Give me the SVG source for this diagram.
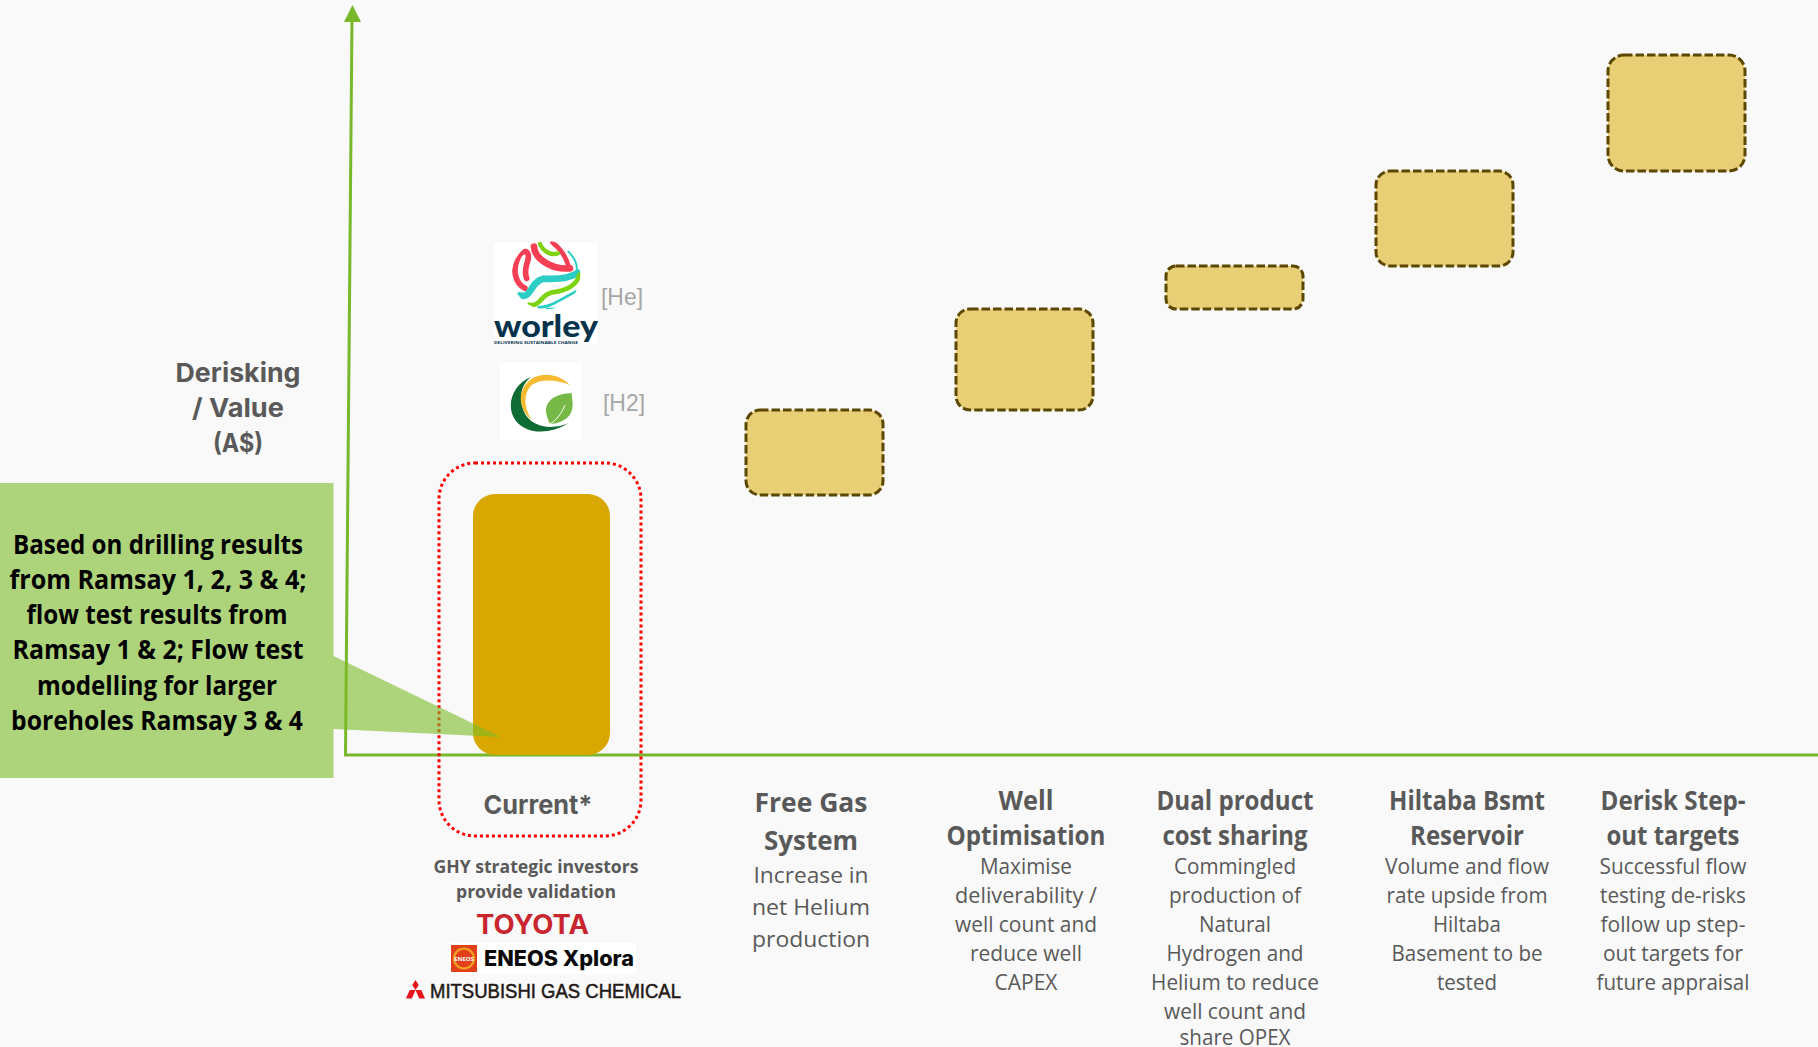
<svg xmlns="http://www.w3.org/2000/svg" width="1818" height="1047" viewBox="0 0 1818 1047">
<defs>
<style>
text{font-family:"Open Sans","Noto Sans",sans-serif;text-anchor:middle;fill:#595959}
.h{font-size:26px;font-weight:700}
.b{font-size:22.5px;font-weight:400}
.i{font-family:"Inter","Noto Sans",sans-serif;font-size:26px;font-weight:700}
.c{font-size:27.5px;font-weight:700;fill:#000}
.s{font-size:18.5px;font-weight:700}
.g{font-family:"Liberation Sans",sans-serif;font-size:24px;fill:#a6a6a6}
.box{fill:#e8cf75;stroke:#5c4700;stroke-width:3;stroke-dasharray:8.500 3}
.ax{fill:none;stroke:#78b82a;stroke-width:3}
.st{fill:none;stroke-linecap:round}
</style>
<clipPath id="globe"><circle cx="498" cy="165" r="103"/></clipPath>
</defs>
<rect width="1818" height="1047" fill="#f9f9f9"/>
<g id="connectors">
<path class="ax" d="M345.500 755 L352 18"/>
<path class="ax" d="M344 755 H1818"/>
<polygon points="352.500,5 344,22 361,22" fill="#78b82a"/>
</g>
<g id="current">
<rect x="473" y="494" width="137" height="261" rx="22" fill="#d8a800"/>
<rect x="439" y="463" width="202" height="373" rx="36" fill="none" stroke="#f00" stroke-width="3" stroke-dasharray="3 3"/>
<text x="538" y="814" class="i" textLength="109" lengthAdjust="spacingAndGlyphs">Current*</text>
</g>
<g id="callout">
<path d="M0 483 H333.500 V656 L501 737 L333.500 729 V778 H0Z" fill="#7bbb26" fill-opacity="0.6"/>
<text class="c" x="158" y="554" textLength="290" lengthAdjust="spacingAndGlyphs">Based on drilling results</text>
<text class="c" x="158" y="589" textLength="297" lengthAdjust="spacingAndGlyphs">from Ramsay 1, 2, 3 &amp; 4;</text>
<text class="c" x="157" y="624" textLength="261" lengthAdjust="spacingAndGlyphs">flow test results from</text>
<text class="c" x="158" y="659" textLength="291" lengthAdjust="spacingAndGlyphs">Ramsay 1 &amp; 2; Flow test</text>
<text class="c" x="157" y="695" textLength="240" lengthAdjust="spacingAndGlyphs">modelling for larger</text>
<text class="c" x="157" y="730" textLength="292" lengthAdjust="spacingAndGlyphs">boreholes Ramsay 3 &amp; 4</text>
</g>
<g id="axis-label">
<text class="i" x="238" y="382" textLength="125" lengthAdjust="spacingAndGlyphs">Derisking</text>
<text class="i" x="238" y="417" textLength="92" lengthAdjust="spacingAndGlyphs">/ Value</text>
<text class="i" x="238" y="452" textLength="50" lengthAdjust="spacingAndGlyphs">(A$)</text>
</g>
<g id="free-gas">
<rect class="box" x="746" y="410" width="137" height="85" rx="14"/>
<text class="h" x="811" y="812" textLength="113" lengthAdjust="spacingAndGlyphs">Free Gas</text>
<text class="h" x="811" y="850" textLength="94" lengthAdjust="spacingAndGlyphs">System</text>
<text class="b" x="811" y="883" textLength="115" lengthAdjust="spacingAndGlyphs">Increase in</text>
<text class="b" x="811" y="915" textLength="118" lengthAdjust="spacingAndGlyphs">net Helium</text>
<text class="b" x="811" y="947" textLength="118" lengthAdjust="spacingAndGlyphs">production</text>
</g>
<g id="well-opt">
<rect class="box" x="956" y="309" width="137" height="101" rx="14"/>
<text class="h" x="1026" y="810" textLength="55" lengthAdjust="spacingAndGlyphs">Well</text>
<text class="h" x="1026" y="845" textLength="159" lengthAdjust="spacingAndGlyphs">Optimisation</text>
<text class="b" x="1026" y="874" textLength="92" lengthAdjust="spacingAndGlyphs">Maximise</text>
<text class="b" x="1026" y="903" textLength="142" lengthAdjust="spacingAndGlyphs">deliverability /</text>
<text class="b" x="1026" y="932" textLength="142" lengthAdjust="spacingAndGlyphs">well count and</text>
<text class="b" x="1026" y="961" textLength="112" lengthAdjust="spacingAndGlyphs">reduce well</text>
<text class="b" x="1026" y="990" textLength="63" lengthAdjust="spacingAndGlyphs">CAPEX</text>
</g>
<g id="dual">
<rect class="box" x="1166" y="266" width="137" height="43" rx="10"/>
<text class="h" x="1235" y="810" textLength="157" lengthAdjust="spacingAndGlyphs">Dual product</text>
<text class="h" x="1235" y="845" textLength="145" lengthAdjust="spacingAndGlyphs">cost sharing</text>
<text class="b" x="1235" y="874" textLength="122" lengthAdjust="spacingAndGlyphs">Commingled</text>
<text class="b" x="1235" y="903" textLength="132" lengthAdjust="spacingAndGlyphs">production of</text>
<text class="b" x="1235" y="932" textLength="72" lengthAdjust="spacingAndGlyphs">Natural</text>
<text class="b" x="1235" y="961" textLength="137" lengthAdjust="spacingAndGlyphs">Hydrogen and</text>
<text class="b" x="1235" y="990" textLength="168" lengthAdjust="spacingAndGlyphs">Helium to reduce</text>
<text class="b" x="1235" y="1019" textLength="142" lengthAdjust="spacingAndGlyphs">well count and</text>
<text class="b" x="1235" y="1045" style="font-size:21px" textLength="111" lengthAdjust="spacingAndGlyphs">share OPEX</text>
</g>
<g id="hiltaba">
<rect class="box" x="1376" y="171" width="137" height="95" rx="14"/>
<text class="h" x="1467" y="810" textLength="156" lengthAdjust="spacingAndGlyphs">Hiltaba Bsmt</text>
<text class="h" x="1467" y="845" textLength="114" lengthAdjust="spacingAndGlyphs">Reservoir</text>
<text class="b" x="1467" y="874" textLength="164" lengthAdjust="spacingAndGlyphs">Volume and flow</text>
<text class="b" x="1467" y="903" textLength="161" lengthAdjust="spacingAndGlyphs">rate upside from</text>
<text class="b" x="1467" y="932" textLength="68" lengthAdjust="spacingAndGlyphs">Hiltaba</text>
<text class="b" x="1467" y="961" textLength="151" lengthAdjust="spacingAndGlyphs">Basement to be</text>
<text class="b" x="1467" y="990" textLength="60" lengthAdjust="spacingAndGlyphs">tested</text>
</g>
<g id="derisk">
<rect class="box" x="1608" y="55" width="137" height="116" rx="16"/>
<text class="h" x="1673" y="810" textLength="145" lengthAdjust="spacingAndGlyphs">Derisk Step-</text>
<text class="h" x="1673" y="845" textLength="133" lengthAdjust="spacingAndGlyphs">out targets</text>
<text class="b" x="1673" y="874" textLength="147" lengthAdjust="spacingAndGlyphs">Successful flow</text>
<text class="b" x="1673" y="903" textLength="146" lengthAdjust="spacingAndGlyphs">testing de-risks</text>
<text class="b" x="1673" y="932" textLength="145" lengthAdjust="spacingAndGlyphs">follow up step-</text>
<text class="b" x="1673" y="961" textLength="140" lengthAdjust="spacingAndGlyphs">out targets for</text>
<text class="b" x="1673" y="990" textLength="153" lengthAdjust="spacingAndGlyphs">future appraisal</text>
</g>
<g id="investors">
<text class="s" x="536" y="873" textLength="205" lengthAdjust="spacingAndGlyphs">GHY strategic investors</text>
<text class="s" x="536" y="898" textLength="160" lengthAdjust="spacingAndGlyphs">provide validation</text>
<text x="532.500" y="934" style="font-family:Inter,sans-serif;font-size:26.500px;font-weight:700;fill:#c9252f" textLength="113" lengthAdjust="spacingAndGlyphs">TOYOTA</text>
<rect x="449" y="943" width="187" height="31" fill="#fff"/>
<rect x="451" y="945" width="26" height="27" fill="#e2401a"/>
<circle cx="464" cy="958.500" r="10" fill="none" stroke="#f6a623" stroke-width="2"/>
<text x="464" y="961" style="font-size:6px;font-weight:700;fill:#fff">ENEOS</text>
<text x="559" y="966" style="font-family:Inter,sans-serif;font-size:21px;font-weight:800;fill:#0a0a0a" textLength="150" lengthAdjust="spacingAndGlyphs">ENEOS Xplora</text>
<path d="M415.500 980 l3.200 5 l-3.200 5 l-3.200 -5Z M415.500 990 h5.800 l3.700 8.500 h-5.800Z M415.500 990 h-5.800 l-3.700 8.500 h5.800Z" fill="#e8141c"/>
<text x="555.500" y="998" style="font-size:20px;font-weight:400;fill:#231815;font-family:'Liberation Sans',sans-serif;stroke:#231815;stroke-width:.5" textLength="251" lengthAdjust="spacingAndGlyphs">MITSUBISHI GAS CHEMICAL</text>
</g>
<g id="worley">
<rect x="494" y="243" width="104" height="101" fill="#fff"/>
<g transform="translate(380 220) scale(0.3333)" clip-path="url(#globe)">
<path class="st" stroke="#f43f54" stroke-width="17" d="M435 205 C405 190 398 150 412 118 C420 95 440 85 445 105 C448 130 428 140 440 175"/>
<path class="st" stroke="#f43f54" stroke-width="20" d="M462 80 C465 120 520 150 570 145"/>
<path class="st" stroke="#f43f54" stroke-width="14" d="M518 68 C540 85 558 110 566 140"/>
<path class="st" stroke="#7dd30f" stroke-width="13" d="M480 72 C490 95 515 108 534 100"/>
<path class="st" stroke="#2ccdc4" stroke-width="6" d="M565 95 C585 115 592 135 590 150"/>
<path class="st" stroke="#2ccdc4" stroke-width="20" d="M420 226 C455 238 450 185 490 176 C530 178 570 175 594 158"/>
<path class="st" stroke="#7dd30f" stroke-width="14" d="M448 254 C485 262 480 218 530 215 C565 208 590 195 598 165"/>
<path class="st" stroke="#2ccdc4" stroke-width="8" d="M476 262 C510 262 540 240 588 214"/>
<path class="st" stroke="#2ccdc4" stroke-width="6" d="M500 266 H534"/>
</g>
<text x="546" y="337" style="font-family:Lato,sans-serif;font-size:31px;font-weight:900;fill:#06334c" textLength="104" lengthAdjust="spacingAndGlyphs">worley</text>
<text x="536" y="344" style="font-size:3.500px;font-weight:700;fill:#06334c" textLength="84" lengthAdjust="spacingAndGlyphs">DELIVERING SUSTAINABLE CHANGE</text>
<text class="g" x="622" y="305" textLength="42" lengthAdjust="spacingAndGlyphs">[He]</text>
</g>
<g id="h2-logo">
<rect x="500" y="363" width="82" height="77" fill="#fff"/>
<g transform="translate(380 220) scale(0.3333)">
<path d="M455 470 C400 490 380 550 400 590 C425 640 500 650 565 610 C520 630 450 625 430 570 C415 530 425 490 455 470Z" fill="#0f6b34"/>
<path d="M570 495 C540 465 490 452 450 480 C415 510 410 560 455 600 C430 560 430 520 455 495 C485 475 530 480 570 495Z" fill="#f5bb30"/>
<path d="M575 520 C530 520 497 540 498 575 C500 590 505 600 510 612 C550 610 580 590 578 550Z" fill="#76b947"/>
<path d="M510 612 C530 600 545 580 555 555" fill="none" stroke="#fff" stroke-width="3"/>
</g>
<text class="g" x="624" y="411" textLength="42" lengthAdjust="spacingAndGlyphs">[H2]</text>
</g>
</svg>
